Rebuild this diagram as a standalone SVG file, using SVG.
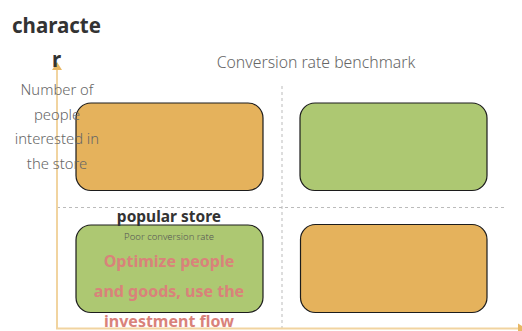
<svg xmlns="http://www.w3.org/2000/svg" width="522" height="331" viewBox="0 0 522 331">
  <style>
    .title { font-family: "Noto Sans", "Liberation Sans", sans-serif; font-weight: 700; font-size: 20.5px; fill: #333333; }
    .axis-label { font-family: "Noto Sans", "Liberation Sans", sans-serif; font-weight: 300; font-size: 14.8px; fill: #666666; text-anchor: middle; }
    .bench { font-size: 15.8px; }
    .box { stroke: #1c1c1c; stroke-width: 1.2; }
    .orange { fill: #E5B25C; }
    .green { fill: #ADC872; }
    .grid { stroke: #BBBBBB; stroke-width: 1; stroke-dasharray: 3 3; fill: none; }
    .axis { stroke: #F1D4A0; stroke-width: 2; fill: none; }
    .head { fill: #E8B865; }
    .name { font-family: "Noto Sans", "Liberation Sans", sans-serif; font-weight: 700; font-size: 15.5px; fill: #333333; text-anchor: middle; }
    .sub { font-family: "Noto Sans", "Liberation Sans", sans-serif; font-weight: 300; font-size: 9.5px; fill: #555555; text-anchor: middle; }
    .action { font-family: "Noto Sans", "Liberation Sans", sans-serif; font-weight: 700; font-size: 16px; fill: #D9827A; text-anchor: middle; }
  </style>

  <rect width="522" height="331" fill="#FFFFFF"/>

  <!-- quadrant grid and axes -->
  <g id="connectors">
    <line class="grid" x1="282" y1="86" x2="282" y2="331"/>
    <line class="grid" x1="57" y1="207.5" x2="507" y2="207.5"/>
    <line class="axis" x1="57" y1="68" x2="57" y2="328.5"/>
    <line class="axis" x1="56" y1="328.5" x2="518" y2="328.5"/>
    <polygon class="head" points="57,62 52,70 62,70"/>
    <polygon class="head" points="526,328.5 518,323.5 518,333.5"/>
  </g>

  <g id="quadrant-top-left">
    <rect class="box orange" x="76" y="103" width="187" height="87.5" rx="15"/>
  </g>

  <g id="quadrant-top-right">
    <rect class="box green" x="300" y="103" width="187" height="87.5" rx="15"/>
  </g>

  <g id="quadrant-bottom-left">
    <rect class="box green" x="76" y="225" width="187" height="87.5" rx="15"/>
    <text class="name" x="169" y="221.5">popular store</text>
    <text class="sub" x="169" y="240">Poor conversion rate</text>
    <text class="action" x="169" y="267">Optimize people</text>
    <text class="action" x="169" y="297">and goods, use the</text>
    <text class="action" x="169" y="327">investment flow</text>
  </g>

  <g id="quadrant-bottom-right">
    <rect class="box orange" x="300.5" y="224.5" width="186.5" height="88" rx="15"/>
  </g>

  <g id="title">
    <text class="title" x="12" y="33">characte</text>
    <text class="title" x="52" y="67">r</text>
  </g>

  <!-- axis captions sit on top of the quadrant boxes -->
  <g id="y-axis-label">
    <text class="axis-label" x="57" y="95">Number of</text>
    <text class="axis-label" x="57" y="120">people</text>
    <text class="axis-label" x="57" y="144">interested in</text>
    <text class="axis-label" x="57" y="169">the store</text>
  </g>

  <g id="x-axis-label">
    <text class="axis-label bench" x="316" y="68">Conversion rate benchmark</text>
  </g>
</svg>
